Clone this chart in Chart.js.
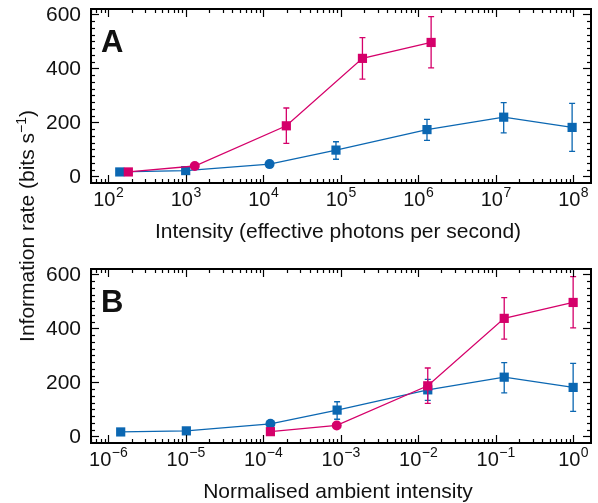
<!DOCTYPE html>
<html><head><meta charset="utf-8">
<script src="https://cdn.jsdelivr.net/npm/chart.js@4"></script>
<style>
html,body{margin:0;padding:0;background:#fff;}
#wrap{position:relative;width:598px;height:503px;overflow:hidden;}
canvas{position:absolute;left:0;}
#ytitle{position:absolute;left:-123px;top:213px;width:300px;height:26px;line-height:26px;text-align:center;
 font-family:"Liberation Sans",Arial,Helvetica,sans-serif;font-size:21px;color:#111;transform:rotate(-90deg);transform-origin:50% 50%;white-space:nowrap;}
#ytitle span{font-size:14px;position:relative;top:-8px;}
</style></head>
<body><div id="wrap">
<canvas id="ca" width="598" height="260" style="top:0"></canvas>
<canvas id="cb" width="598" height="243" style="top:260px"></canvas>
<div id="ytitle">Information rate (bits s<span>−1</span>)</div>
</div>
<script>
// ---------- data ----------
// Panel A: intensity (effective photons per second)
const aBlueX   = [141, 1000, 12100, 87000, 1300000, 12700000, 97000000];
const aBlueY   = [16, 21, 45, 97, 173, 219, 181];
const aBlueLo  = [null, null, 36, 63, 133, 161, 92];
const aBlueHi  = [null, null, 55, 128, 211, 273, 270];
const aBlueMk  = ['rect','rect','circle','rect','rect','rect','rect'];
const aPinkX   = [182, 1310, 19900, 191000, 1470000];
const aPinkY   = [16, 38, 187, 437, 496];
const aPinkLo  = [null, 30, 122, 360, 402];
const aPinkHi  = [null, 47, 253, 514, 592];
const aPinkMk  = ['rect','circle','rect','rect','rect'];
// Panel B: normalised ambient intensity
const bBlueX   = [1.45e-6, 1.02e-5, 1.24e-4, 9.0e-4, 1.33e-2, 0.129, 1.0];
const bBlueY   = [16, 20, 46, 97, 172, 219, 181];
const bBlueLo  = [null, null, 37, 63, 133, 161, 92];
const bBlueHi  = [null, null, 56, 128, 211, 273, 270];
const bBlueMk  = ['rect','rect','circle','rect','rect','rect','rect'];
const bPinkX   = [1.24e-4, 8.9e-4, 1.33e-2, 0.129, 1.0];
const bPinkY   = [17, 40, 187, 437, 496];
const bPinkLo  = [null, 32, 122, 360, 402];
const bPinkHi  = [null, 49, 253, 514, 592];
const bPinkMk  = ['rect','circle','rect','rect','rect'];
// Axis ticks
const yTicks = [0, 200, 400, 600];
const aXExp = [2, 3, 4, 5, 6, 7, 8];
const bXExp = [-6, -5, -4, -3, -2, -1, 0];
const titleA = "Intensity (effective photons per second)";
const titleB = "Normalised ambient intensity";

const BLUE = '#0b67b2', PINK = '#d5006a';
const FONT = '"Liberation Sans", Arial, Helvetica, sans-serif';

function pts(xs, ys){ return xs.map((x,i)=>({x:x, y:ys[i]})); }

const deco = {
  id:'deco',
  beforeDatasetDraw(chart, args){
    const ds = chart.data.datasets[args.index];
    const ctx = chart.ctx, xs = chart.scales.x, ys = chart.scales.y;
    ctx.save(); ctx.strokeStyle = ds.borderColor; ctx.lineWidth = 1.3;
    ds.errLo.forEach((lo,i)=>{
      if(lo==null) return;
      const px = xs.getPixelForValue(ds.data[i].x);
      const y1 = ys.getPixelForValue(lo), y2 = ys.getPixelForValue(ds.errHi[i]);
      ctx.beginPath();
      ctx.moveTo(px,y1); ctx.lineTo(px,y2);
      ctx.moveTo(px-3,y1); ctx.lineTo(px+3,y1);
      ctx.moveTo(px-3,y2); ctx.lineTo(px+3,y2);
      ctx.stroke();
    });
    ctx.restore();
  },
  afterDraw(chart, args, o){
    const ctx = chart.ctx, ca = chart.chartArea, xs = chart.scales.x, ys = chart.scales.y;
    ctx.save();
    ctx.strokeStyle = '#000'; ctx.lineWidth = 1.2;
    const line=(a,b,c,d)=>{ctx.beginPath();ctx.moveTo(a,b);ctx.lineTo(c,d);ctx.stroke();};
    const lmin = Math.floor(Math.log10(xs.min)), lmax = Math.ceil(Math.log10(xs.max));
    for(let e=lmin;e<=lmax;e++) for(let k=1;k<=9;k++){
      const v = k*Math.pow(10,e);
      if(v<xs.min||v>xs.max) continue;
      const px = Math.round(xs.getPixelForValue(v))+0.5;
      const L = k===1?8:4;
      line(px,ca.bottom,px,ca.bottom-L); line(px,ca.top,px,ca.top+L);
    }
    for(let v=0; v<=600; v+=25){
      const py = Math.round(ys.getPixelForValue(v))+0.5;
      const L = (v%200===0)?8:4;
      line(ca.left,py,ca.left+L,py); line(ca.right,py,ca.right-L,py);
    }
    ctx.lineWidth = 2;
    ctx.strokeRect(ca.left, ca.top, ca.right-ca.left, ca.bottom-ca.top);
    // y labels
    ctx.fillStyle = '#111';
    ctx.font = '21px '+FONT; ctx.textAlign='right'; ctx.textBaseline='middle';
    yTicks.forEach(v=>ctx.fillText(String(v), ca.left-10, ys.getPixelForValue(v)+1));
    // x labels
    ctx.textBaseline='alphabetic';
    o.exps.forEach(e=>{
      const px = xs.getPixelForValue(Math.pow(10,e));
      const es = e<0 ? '\u2212'+Math.abs(e) : String(e);
      ctx.font = '20px '+FONT; const w1 = ctx.measureText('10').width;
      ctx.font = '14px '+FONT; const w2 = ctx.measureText(es).width;
      const x0 = px - (w1+w2)/2;
      ctx.textAlign='left';
      ctx.font = '20px '+FONT; ctx.fillText('10', x0, ca.bottom+23);
      ctx.font = '14px '+FONT; ctx.fillText(es, x0+w1+0.5, ca.bottom+14);
    });
    // axis title
    ctx.font = '21px '+FONT; ctx.textAlign='center';
    ctx.fillText(o.title, (ca.left+ca.right)/2-3, ca.bottom+55);
    // panel letter
    ctx.font = 'bold 31px '+FONT; ctx.textAlign='left';
    ctx.fillText(o.letter, 101, 52);
    ctx.restore();
  }
};

function make(id, h, xmin, xmax, blue, pink, opts){
  const ds = (d, c)=>({data:pts(d.x,d.y), errLo:d.lo, errHi:d.hi, borderColor:c, backgroundColor:c,
     borderWidth:1.3, pointStyle:d.mk, pointRadius:d.mk.map(m=>m==='circle'?5:6.5), pointBorderWidth:0,
     pointHoverRadius:6, tension:0, fill:false});
  return new Chart(document.getElementById(id), {
    type:'line',
    data:{datasets:[ds(pink,PINK), ds(blue,BLUE)]},
    options:{
      responsive:false, animation:false, events:[],
      layout:{padding:{left:91, right:7, top:9, bottom:h-183}},
      scales:{
        x:{type:'logarithmic', min:xmin, max:xmax, display:false},
        y:{type:'linear', min:-25, max:620, display:false}
      },
      plugins:{legend:{display:false}, tooltip:{enabled:false}, deco:opts}
    },
    plugins:[deco]
  });
}
make('ca', 260, 60, 1.7e8,
  {x:aBlueX,y:aBlueY,lo:aBlueLo,hi:aBlueHi,mk:aBlueMk},
  {x:aPinkX,y:aPinkY,lo:aPinkLo,hi:aPinkHi,mk:aPinkMk},
  {exps:aXExp, title:titleA, letter:'A'});
make('cb', 243, 6e-7, 1.7,
  {x:bBlueX,y:bBlueY,lo:bBlueLo,hi:bBlueHi,mk:bBlueMk},
  {x:bPinkX,y:bPinkY,lo:bPinkLo,hi:bPinkHi,mk:bPinkMk},
  {exps:bXExp, title:titleB, letter:'B'});
</script>
</body></html>
